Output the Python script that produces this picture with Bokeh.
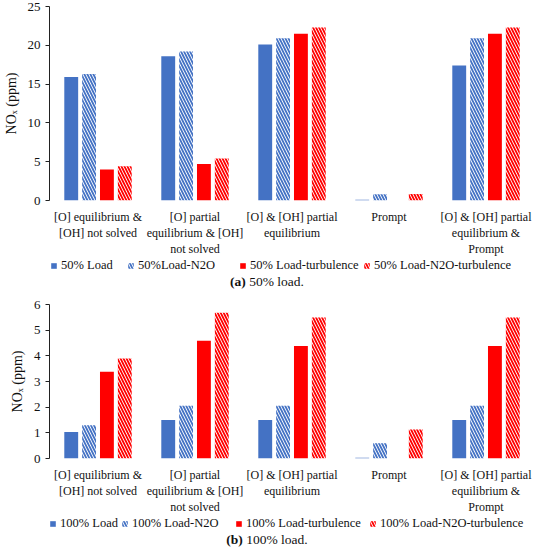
from bokeh.plotting import figure
from bokeh.models import ColumnDataSource, Range1d, FixedTicker, Legend, LegendItem, Div
from bokeh.layouts import column
from bokeh.transform import dodge
from bokeh.embed import file_html
from bokeh.resources import INLINE

categories = [
    "[O] equilibrium &\n[OH] not solved",
    "[O] partial\nequilibrium & [OH]\nnot solved",
    "[O] & [OH] partial\nequilibrium",
    "Prompt",
    "[O] & [OH] partial\nequilibrium &\nPrompt",
]

# (a) 50% load
load50 = [15.9, 18.6, 20.1, 0.1, 17.4]
load50_n2o = [16.3, 19.2, 20.9, 0.8, 20.9]
load50_turb = [4.0, 4.7, 21.5, 0.0, 21.5]
load50_n2o_turb = [4.4, 5.4, 22.3, 0.85, 22.3]
names50 = ["50% Load", "50%Load-N2O", "50% Load-turbulence", "50% Load-N2O-turbulence"]
yticks50 = [0, 5, 10, 15, 20, 25]

# (b) 100% load
load100 = [1.03, 1.5, 1.5, 0.03, 1.5]
load100_n2o = [1.3, 2.06, 2.06, 0.59, 2.06]
load100_turb = [3.38, 4.59, 4.38, 0.0, 4.38]
load100_n2o_turb = [3.9, 5.68, 5.49, 1.13, 5.49]
names100 = ["100% Load", "100% Load-N2O", "100% Load-turbulence", "100% Load-N2O-turbulence"]
yticks100 = [0, 1, 2, 3, 4, 5, 6]

captions = [("(a)", "50% load."), ("(b)", "100% load.")]

BLUE = "#4472C4"
RED = "#FF0000"
FONT = "Liberation Serif"
COLORS = [BLUE, BLUE, RED, RED]
HATCHED = [False, True, False, True]
OFFSETS = [-0.276, -0.092, 0.092, 0.276]
LEGEND_X50 = [1, 78, 190, 314]
LEGEND_X100 = [0, 72, 186, 320]


def bar_style(i):
    if HATCHED[i]:
        return dict(fill_color="white", hatch_pattern="\\", hatch_color=COLORS[i],
                    hatch_scale=6, hatch_weight=1.8, line_color=None)
    return dict(fill_color=COLORS[i], line_color=None)


def make_source(series):
    return ColumnDataSource(dict(cat=categories, s0=series[0], s1=series[1], s2=series[2], s3=series[3]))


def make_chart(src, yticks, frame_h, top_border):
    p = figure(x_range=categories, y_range=Range1d(yticks[0], yticks[-1]),
               width=534, frame_height=frame_h, output_backend="svg", toolbar_location=None,
               min_border_left=36, min_border_right=0, min_border_top=top_border, min_border_bottom=0)
    for i in range(4):
        p.vbar(x=dodge("cat", OFFSETS[i], range=p.x_range), top="s%d" % i, width=0.143,
               source=src, **bar_style(i))

    p.xgrid.visible = False
    p.ygrid.visible = False
    p.outline_line_color = None

    p.yaxis.ticker = FixedTicker(ticks=yticks)
    p.yaxis.axis_label = "NOₓ (ppm)"
    p.yaxis.axis_label_text_font = FONT
    p.yaxis.axis_label_text_font_size = "14px"
    p.yaxis.axis_label_text_font_style = "normal"
    p.yaxis.axis_label_text_color = "#111"
    p.yaxis.axis_label_standoff = 6
    p.yaxis.major_label_text_font = FONT
    p.yaxis.major_label_text_font_size = "13px"
    p.yaxis.major_label_text_color = "#111"
    p.yaxis.major_label_standoff = 5
    p.yaxis.major_tick_in = 0
    p.yaxis.major_tick_out = 4
    p.yaxis.minor_tick_line_color = None
    p.yaxis.axis_line_color = "#222"
    p.yaxis.major_tick_line_color = "#222"

    p.xaxis.axis_line_color = None
    p.xaxis.major_tick_line_color = None
    p.xaxis.minor_tick_line_color = None
    p.xaxis.major_label_text_font = FONT
    p.xaxis.major_label_text_font_size = "12px"
    p.xaxis.major_label_text_line_height = 1.15
    p.xaxis.major_label_text_color = "#111"
    p.xaxis.major_label_standoff = 3
    return p


def make_legend(src, names, xs):
    lf = figure(x_range=categories, y_range=Range1d(0, 1), width=534, height=15,
                output_backend="svg", toolbar_location=None,
                x_axis_type=None, y_axis_type=None,
                min_border_left=0, min_border_right=0, min_border_top=0, min_border_bottom=0)
    lf.outline_line_color = None
    for i in range(4):
        r = lf.vbar(x=dodge("cat", OFFSETS[i], range=lf.x_range), top="s%d" % i, width=0.143,
                    source=src, visible=False, **bar_style(i))
        leg = Legend(items=[LegendItem(label=names[i], renderers=[r])], location=(xs[i], 0),
                     label_text_font=FONT, label_text_font_size="12.5px", label_text_color="#111",
                     glyph_width=7, glyph_height=7, padding=0, margin=0,
                     label_standoff=4, border_line_color=None, background_fill_alpha=0,
                     inactive_fill_alpha=0, label_height=14)
        lf.add_layout(leg)
    return lf


def make_caption(c):
    return Div(text="<b>%s</b> %s" % c, width=534, height=17, margin=(0, 0, 0, 0),
               styles={"font-family": FONT, "font-size": "13.5px", "text-align": "center",
                       "width": "534px", "color": "#111", "line-height": "17px"})


src50 = make_source([load50, load50_n2o, load50_turb, load50_n2o_turb])
src100 = make_source([load100, load100_n2o, load100_turb, load100_n2o_turb])

p1 = make_chart(src50, yticks50, 194, 6)
p2 = make_chart(src100, yticks100, 154, 14)

layout = column(p1, make_legend(src50, names50, LEGEND_X50), make_caption(captions[0]),
                p2, make_legend(src100, names100, LEGEND_X100), make_caption(captions[1]), spacing=0)

open("out.html", "w").write(file_html(layout, INLINE))
